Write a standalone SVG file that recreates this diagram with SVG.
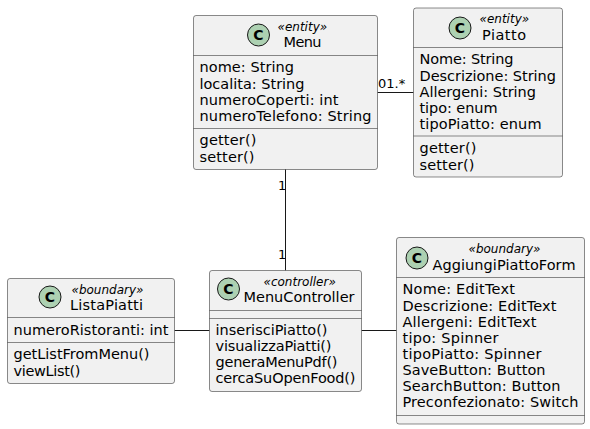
<svg xmlns="http://www.w3.org/2000/svg" width="590" height="429" viewBox="0 0 590 429">
<defs>
<style>
text{font-family:"DejaVu Sans",sans-serif;fill:#000}
.m{font-size:14.5px}
.s{font-size:12px;font-style:italic}
.l{font-size:13px}
.box{fill:#F1F1F1;stroke:#181818;stroke-width:.5}
.div{stroke:#181818;stroke-width:.5}
.spot{fill:#ADD1B2;stroke:#181818;stroke-width:1}
.c{font-size:14px;font-weight:bold}
.conn{stroke:#181818;stroke-width:1;fill:none}
</style>
</defs>
<rect width="590" height="429" fill="#fff"/>
<g id="connectors">
<path class="conn" d="M377.5 92.5H413.5"/>
<path class="conn" d="M285.5 169V270.5"/>
<path class="conn" d="M174.5 330.5H209.5"/>
<path class="conn" d="M361.5 330.5H396.5"/>
<text class="l" x="378" y="88">01.*</text>
<text class="l" x="278" y="190">1</text>
<text class="l" x="278" y="259">1</text>
</g>
<g id="Menu">
<rect class="box" x="193.5" y="15.5" width="184" height="154" rx="2.5"/>
<circle class="spot" cx="258.5" cy="35" r="11"/>
<text class="c" x="258.5" y="40" text-anchor="middle">C</text>
<text class="s" x="277.5" y="31">«entity»</text>
<text class="m" x="283.5" y="47" textLength="38">Menu</text>
<path class="div" d="M193.5 55.5H377.5M193.5 128.5H377.5"/>
<text class="m" x="199.5" y="72" textLength="94.5">nome: String</text>
<text class="m" x="199.5" y="89" textLength="105">localita: String</text>
<text class="m" x="199.5" y="105" textLength="139">numeroCoperti: int</text>
<text class="m" x="199.5" y="121" textLength="172">numeroTelefono: String</text>
<text class="m" x="199.5" y="145" textLength="57">getter()</text>
<text class="m" x="199.5" y="162" textLength="55">setter()</text>
</g>
<g id="Piatto">
<rect class="box" x="413.5" y="8" width="149" height="169" rx="2.5"/>
<circle class="spot" cx="460" cy="28" r="11"/>
<text class="c" x="460" y="33" text-anchor="middle">C</text>
<text class="s" x="479.5" y="23">«entity»</text>
<text class="m" x="482" y="39.5" textLength="44">Piatto</text>
<path class="div" d="M413.5 47.5H562.5M413.5 136H562.5"/>
<text class="m" x="419.5" y="64" textLength="94">Nome: String</text>
<text class="m" x="419.5" y="81" textLength="136.5">Descrizione: String</text>
<text class="m" x="419.5" y="97" textLength="116.5">Allergeni: String</text>
<text class="m" x="419.5" y="113" textLength="78">tipo: enum</text>
<text class="m" x="419.5" y="129" textLength="122">tipoPiatto: enum</text>
<text class="m" x="419.5" y="153" textLength="57">getter()</text>
<text class="m" x="419.5" y="170" textLength="55">setter()</text>
</g>
<g id="ListaPiatti">
<rect class="box" x="7.5" y="278.5" width="167" height="105" rx="2.5"/>
<circle class="spot" cx="50" cy="297" r="11"/>
<text class="c" x="50" y="302" text-anchor="middle">C</text>
<text class="s" x="71.5" y="293.5">«boundary»</text>
<text class="m" x="70" y="310" textLength="73">ListaPiatti</text>
<path class="div" d="M7.5 317.5H174.5M7.5 342.5H174.5"/>
<text class="m" x="13.5" y="335" textLength="155">numeroRistoranti: int</text>
<text class="m" x="13.5" y="359" textLength="136">getListFromMenu()</text>
<text class="m" x="13.5" y="376" textLength="67">viewList()</text>
</g>
<g id="MenuController">
<rect class="box" x="209.5" y="270.5" width="152" height="121" rx="2.5"/>
<circle class="spot" cx="228.5" cy="289" r="11"/>
<text class="c" x="228.5" y="294" text-anchor="middle">C</text>
<text class="s" x="263.5" y="285.5">«controller»</text>
<text class="m" x="243.5" y="302" textLength="111">MenuController</text>
<path class="div" d="M209.5 310.5H361.5M209.5 318.5H361.5"/>
<text class="m" x="215.5" y="335" textLength="112">inserisciPiatto()</text>
<text class="m" x="215.5" y="351" textLength="116">visualizzaPiatti()</text>
<text class="m" x="215.5" y="367" textLength="122">generaMenuPdf()</text>
<text class="m" x="215.5" y="383" textLength="140">cercaSuOpenFood()</text>
</g>
<g id="AggiungiPiattoForm">
<rect class="box" x="396.5" y="237.5" width="188" height="186.5" rx="2.5"/>
<circle class="spot" cx="417" cy="258" r="11"/>
<text class="c" x="417" y="263" text-anchor="middle">C</text>
<text class="s" x="468.5" y="253">«boundary»</text>
<text class="m" x="432.5" y="269.5" textLength="143">AggiungiPiattoForm</text>
<path class="div" d="M396.5 277.5H584.5M396.5 415.5H584.5"/>
<text class="m" x="402.5" y="294" textLength="112.5">Nome: EditText</text>
<text class="m" x="402.5" y="310.5" textLength="154">Descrizione: EditText</text>
<text class="m" x="402.5" y="326.5" textLength="134">Allergeni: EditText</text>
<text class="m" x="402.5" y="342.5" textLength="96">tipo: Spinner</text>
<text class="m" x="402.5" y="358.5" textLength="139">tipoPiatto: Spinner</text>
<text class="m" x="402.5" y="375" textLength="143">SaveButton: Button</text>
<text class="m" x="402.5" y="391" textLength="158">SearchButton: Button</text>
<text class="m" x="402.5" y="407" textLength="176">Preconfezionato: Switch</text>
</g>
</svg>
